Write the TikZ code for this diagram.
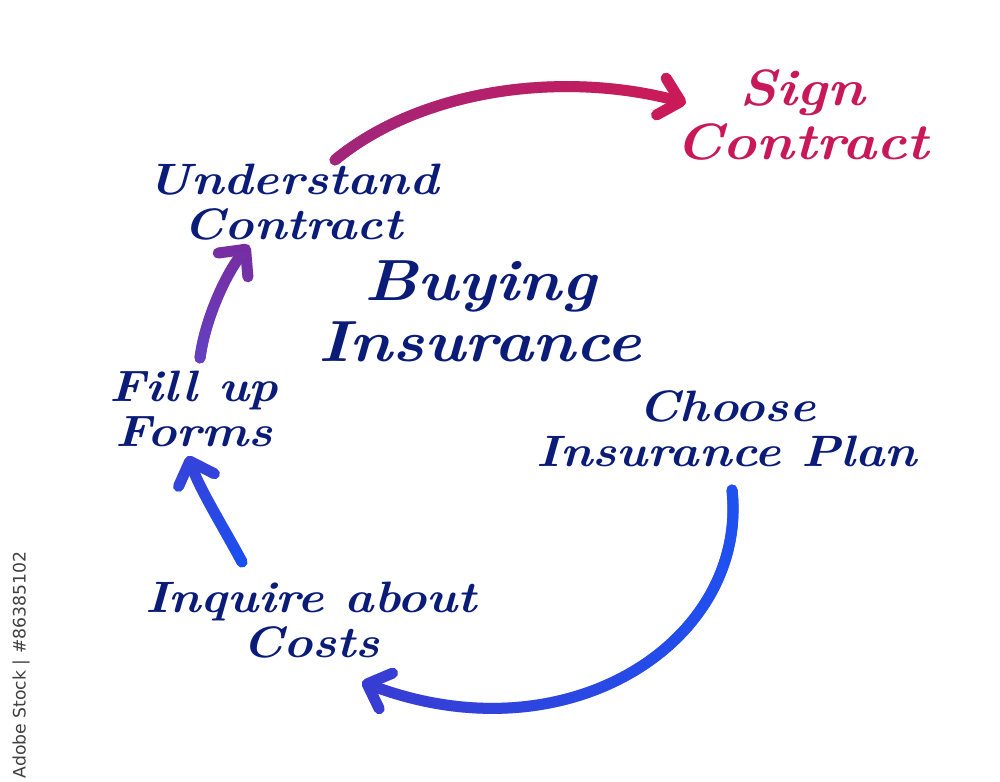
\documentclass[tikz,border=0pt]{standalone}
\usepackage{fontspec}
\newfontfamily\credfont{DejaVu Sans}
\usetikzlibrary{arrows.meta,calc,fadings}
\definecolor{navy}{HTML}{0B1C78}
\definecolor{pinkt}{HTML}{C8185A}
\definecolor{pinkA}{HTML}{A0267C}
\definecolor{pinkB}{HTML}{CE1A56}
\definecolor{purpA}{HTML}{7A2C9E}
\definecolor{purpB}{HTML}{6242C4}
\definecolor{blueA}{HTML}{3A42D6}
\definecolor{blueB}{HTML}{1A50F2}
\definecolor{bigA}{HTML}{1E52F2}
\definecolor{bigB}{HTML}{3A3CD2}
\newcommand\hw[1]{\scalebox{1.13}[1]{#1}}
\begin{document}
\begin{tikzpicture}[x=0.1mm,y=-0.1mm,
  lbl/.style={anchor=base, align=center, text=navy, inner sep=0pt,
    font=\bfseries\itshape\fontsize{12.5}{13}\selectfont},
  arr/.style={line width=1.1mm, line cap=round,
    -{Straight Barb[length=2.0mm,width=3.8mm,round]}}]
\useasboundingbox[fill=white] (0,0) rectangle (1000,782);

\node[lbl, text=pinkt, font=\bfseries\itshape\fontsize{14.5}{15.6}\selectfont] (sign) at (802,160) {\hw{Sign}\\\hw{Contract}};
\node[lbl] (understand) at (293,240) {\hw{Understand}\\\hw{Contract}};
\node[lbl, font=\bfseries\itshape\fontsize{16.5}{17.6}\selectfont] (buying) at (480,362) {\hw{Buying}\\\hw{Insurance}};
\node[lbl] (fillup) at (194,447) {\hw{Fill up}\\\hw{Forms}};
\node[lbl] (choose) at (727,467) {\hw{Choose}\\\hw{Insurance Plan}};
\node[lbl] (inquire) at (311,658) {\hw{Inquire about}\\\hw{Costs}};

\node[rotate=90, anchor=center, text=black!75, inner sep=0pt,
  font=\credfont\fontsize{4.9}{6}\selectfont] (credit) at (21,665) {Adobe Stock | \#86385102};

\coordinate (p1) at (335,160);
\coordinate (p2) at (686,103);
\coordinate (u1) at (200,358);
\coordinate (u2) at (249,245);
\coordinate (b1) at (242,562);
\coordinate (b2) at (188,456);
\coordinate (c1) at (732,490);
\coordinate (c2) at (362,682);

% Sign contract arrow (purple-magenta -> pink)
\draw[arr, pinkB] (p1) .. controls (420,90) and (560,70) .. (p2);
\draw[arr, pinkA, path fading=east] (p1) .. controls (420,90) and (560,70) .. (p2);
% Understand contract arrow
\draw[arr, purpA] (u1) .. controls (205,320) and (225,275) .. (u2);
\draw[arr, purpB, path fading=north] (u1) .. controls (205,320) and (225,275) .. (u2);
% Fill up forms arrow
\draw[arr, blueA] (b1) .. controls (225,530) and (200,490) .. (b2);
\draw[arr, blueB, path fading=north] (b1) .. controls (225,530) and (200,490) .. (b2);
% Inquire about costs arrow
\draw[arr, bigB] (c1) .. controls (748,640) and (570,760) .. (c2);
\draw[arr, bigA, path fading=west] (c1) .. controls (748,640) and (570,760) .. (c2);
\end{tikzpicture}
\end{document}
